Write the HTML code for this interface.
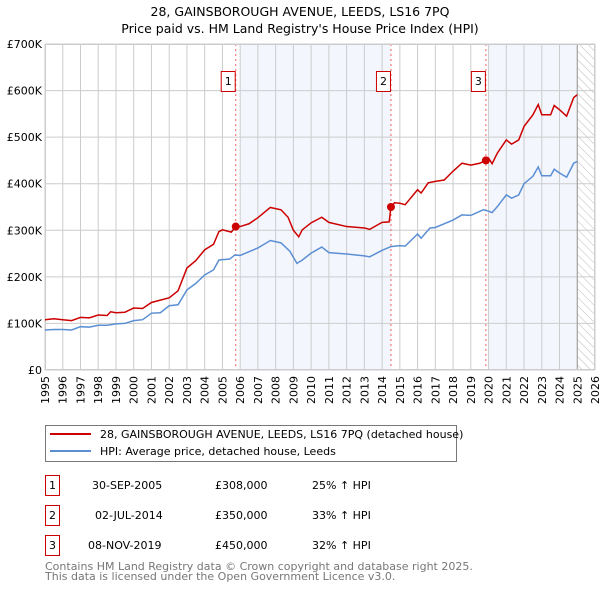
<!DOCTYPE html>
<html><head><meta charset="utf-8"><style>
body{margin:0;background:#fff;font-family:"DejaVu Sans","Liberation Sans",sans-serif}
svg text{font-family:"DejaVu Sans","Liberation Sans",sans-serif}
</style></head><body>
<svg id="c" width="600" height="590" xmlns="http://www.w3.org/2000/svg">
<defs><pattern id="hatch" width="6" height="6" patternUnits="userSpaceOnUse" patternTransform="rotate(-45)"><line x1="0" y1="0" x2="0" y2="6" stroke="#bbb" stroke-width="1"/></pattern></defs>
<text x="300" y="16" text-anchor="middle" font-size="12.5" fill="#000">28, GAINSBOROUGH AVENUE, LEEDS, LS16 7PQ</text>
<text x="300" y="33" text-anchor="middle" font-size="12.5" fill="#000">Price paid vs. HM Land Registry's House Price Index (HPI)</text>
<g id="plot"></g>
<g>
<rect x="45.5" y="425.5" width="411" height="36" fill="#fff" stroke="#777"/>
<line x1="50" y1="434" x2="91" y2="434" stroke="#cc0000" stroke-width="2"/>
<text x="100" y="438" font-size="11">28, GAINSBOROUGH AVENUE, LEEDS, LS16 7PQ (detached house)</text>
<line x1="50" y1="451" x2="91" y2="451" stroke="#5b8fd4" stroke-width="2"/>
<text x="100" y="455" font-size="11">HPI: Average price, detached house, Leeds</text>
</g>
<g font-size="11">
<rect x="45.5" y="475.5" width="14" height="20" fill="none" stroke="#cc0000"/><text x="52.5" y="489" text-anchor="middle">1</text>
<text x="92" y="489">30-SEP-2005</text><text x="215" y="489">£308,000</text><text x="312" y="489">25% ↑ HPI</text>
<rect x="45.5" y="505.5" width="14" height="20" fill="none" stroke="#cc0000"/><text x="52.5" y="519" text-anchor="middle">2</text>
<text x="95" y="519">02-JUL-2014</text><text x="215" y="519">£350,000</text><text x="312" y="519">33% ↑ HPI</text>
<rect x="45.5" y="535.5" width="14" height="20" fill="none" stroke="#cc0000"/><text x="52.5" y="549" text-anchor="middle">3</text>
<text x="88" y="549">08-NOV-2019</text><text x="215" y="549">£450,000</text><text x="312" y="549">32% ↑ HPI</text>
</g>
<text x="45" y="570" font-size="11" fill="#777">Contains HM Land Registry data © Crown copyright and database right 2025.</text>
<text x="45" y="580" font-size="11" fill="#777">This data is licensed under the Open Government Licence v3.0.</text>
</svg>
<script>
const redYears=[1995,1995.5,1996,1996.5,1997,1997.5,1998,1998.5,1998.7,1999,1999.5,2000,2000.5,2001,2001.5,2002,2002.5,2003,2003.5,2004,2004.5,2004.8,2005,2005.5,2005.75,2006,2006.5,2007,2007.7,2008.3,2008.7,2009,2009.3,2009.5,2010,2010.6,2011,2012,2013,2013.3,2014,2014.4,2014.5,2014.7,2015,2015.3,2016,2016.2,2016.6,2017,2017.5,2018,2018.5,2019,2019.5,2019.85,2020,2020.2,2020.5,2021,2021.3,2021.7,2022,2022.5,2022.8,2023,2023.5,2023.7,2024,2024.4,2024.8,2025];
const redValues=[108,110,108,106,113,112,118,117,125,123,124,133,132,145,150,155,170,219,235,258,270,297,301,296,308,308,314,327,349,344,328,300,286,301,316,328,317,308,305,302,317,318,350,359,358,355,387,380,402,405,408,427,444,440,444,450,455,443,466,494,485,494,523,548,570,548,548,568,559,545,585,591];
const hpiYears=[1995,1995.5,1996,1996.5,1997,1997.5,1998,1998.5,1999,1999.5,2000,2000.5,2001,2001.5,2002,2002.5,2003,2003.5,2004,2004.5,2004.8,2005,2005.4,2005.7,2006,2007,2007.7,2008.3,2008.8,2009.2,2009.5,2010,2010.6,2011,2012,2013,2013.3,2014,2014.5,2015,2015.3,2016,2016.2,2016.7,2017,2018,2018.5,2019,2019.7,2020,2020.2,2020.5,2021,2021.3,2021.7,2022,2022.5,2022.8,2023,2023.5,2023.7,2024,2024.4,2024.8,2025];
const hpiValues=[86,87,87,86,93,92,96,96,99,100,106,108,122,123,138,140,172,186,204,215,236,237,238,247,246,262,278,273,255,229,236,251,264,252,249,245,243,257,265,267,266,292,283,305,306,322,333,332,344,341,338,351,376,369,376,400,416,436,417,417,431,423,414,444,448];
const saleYears=[2005.75,2014.5,2019.85];
const saleValues=[308,350,450];
const saleLabels=["1","2","3"];
const yTicks=[0,100,200,300,400,500,600,700];
const yTickLabels=["£0","£100K","£200K","£300K","£400K","£500K","£600K","£700K"];
const xTicks=[1995,1996,1997,1998,1999,2000,2001,2002,2003,2004,2005,2006,2007,2008,2009,2010,2011,2012,2013,2014,2015,2016,2017,2018,2019,2020,2021,2022,2023,2024,2025,2026];
const L=45,R=595,T=44,B=370;
const X=y=>L+(y-1995)/31*(R-L);
const Y=v=>B-v/700*(B-T);
const NS="http://www.w3.org/2000/svg";
const g=document.getElementById('plot');
function mk(t,a,p){const e=document.createElementNS(NS,t);for(const k in a)e.setAttribute(k,a[k]);(p||g).appendChild(e);return e;}
let e;
e=mk('rect',{x:L,y:T,width:R-L,height:B-T,fill:'#fff'});


e=mk('rect',{x:X(2006),y:T,width:X(2014.5)-X(2006),height:B-T,fill:'#f3f6fd'});


e=mk('rect',{x:X(2020),y:T,width:X(2025)-X(2020),height:B-T,fill:'#f3f6fd'});


e=mk('rect',{x:X(2025),y:T,width:R-X(2025),height:B-T,fill:'url(#hatch)'});


xTicks.forEach(t=>{e=mk('line',{x1:X(t),x2:X(t),y1:T,y2:B,stroke:'#ccc','stroke-width':1});


e=mk('text',{x:0,y:0,'font-size':11,'text-anchor':'end',transform:`translate(${X(t)+4},${B+6}) rotate(-90)`});e.textContent=t;

});
yTicks.forEach((t,i)=>{e=mk('line',{x1:L,x2:R,y1:Y(t),y2:Y(t),stroke:'#ccc','stroke-width':1});


e=mk('text',{x:L-3,y:Y(t)+4,'font-size':11,'text-anchor':'end'});e.textContent=yTickLabels[i];

});
e=mk('line',{x1:X(2025),x2:X(2025),y1:T,y2:B,stroke:'#999','stroke-width':1});


saleYears.forEach((s,i)=>{e=mk('line',{x1:X(s),x2:X(s),y1:T,y2:B,stroke:'#f06060','stroke-dasharray':'2,3','stroke-width':1});


e=mk('rect',{x:X(s)-14.5,y:71.5,width:14,height:20,fill:'#fff',stroke:'#cc0000'});


e=mk('text',{x:X(s)-7.5,y:85,'font-size':11,'text-anchor':'middle'});e.textContent=saleLabels[i];

});
e=mk('rect',{x:L+0.5,y:T+0.5,width:R-L-1,height:B-T-1,fill:'none',stroke:'#ccc'});


e=mk('polyline',{points:hpiYears.map((y,i)=>X(y)+','+Y(hpiValues[i])).join(' '),fill:'none',stroke:'#5b8fd4','stroke-width':1.5});


e=mk('polyline',{points:redYears.map((y,i)=>X(y)+','+Y(redValues[i])).join(' '),fill:'none',stroke:'#cc0000','stroke-width':1.5});


saleYears.forEach((s,i)=>{e=mk('circle',{cx:X(s),cy:Y(saleValues[i]),r:4,fill:'#cc0000'});

});
</script>
</body></html>
